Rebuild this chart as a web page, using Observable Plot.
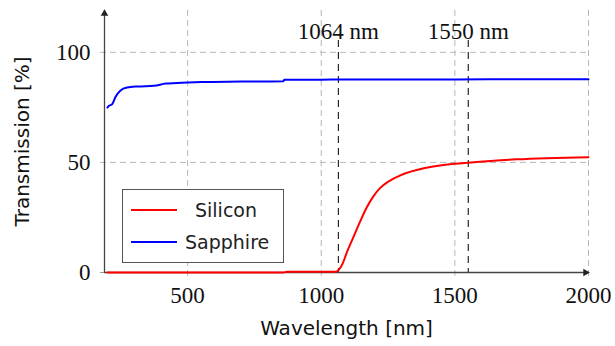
<!DOCTYPE html>
<html>
<head>
<meta charset="utf-8">
<script src="https://cdn.jsdelivr.net/npm/d3@7"></script>
<script src="https://cdn.jsdelivr.net/npm/@observablehq/plot@0.6"></script>
<style>
  body { margin: 0; background: #fff; }
  #wrap { position: relative; width: 615px; height: 346px; }
  #legend {
    position: absolute; left: 122px; top: 189px; width: 162px; height: 74px;
    border: 1.3px solid #555; box-sizing: border-box; background: #fff;
    font-family: "DejaVu Sans", sans-serif; font-size: 19px; color: #222;
  }
  .row { position: absolute; left: 8px; height: 24px; display: flex; align-items: center; }
  .sw { width: 46px; height: 2px; margin-right: 8px; }
</style>
</head>
<body>
<div id="wrap"></div>
<script>
// ---- data ----
const sapphireX = [200, 205, 218, 230, 249, 274, 311, 374, 418, 500, 549, 700, 858, 862, 1000, 1200, 1500, 1800, 2000];
const sapphireY = [74.9, 75.6, 76.5, 79.7, 82.7, 84.0, 84.5, 84.8, 85.8, 86.3, 86.5, 86.7, 86.9, 87.5, 87.6, 87.7, 87.7, 87.8, 87.8];
const siliconX = [200, 860, 870, 1055, 1064, 1080, 1094, 1120, 1145, 1170, 1195, 1220, 1250, 1294, 1394, 1500, 1550, 1731, 2000];
const siliconY = [0, 0, 0.3, 0.3, 1, 4, 8.6, 16, 23, 29.5, 34.6, 38.3, 41.2, 44, 47.6, 49.4, 49.9, 51.4, 52.4];
const seriesNames = ["Silicon", "Sapphire"];
const seriesColors = ["#ff0000", "#0000ff"];
const markerLines = [1064, 1550];
const markerLabels = ["1064 nm", "1550 nm"];
const xTicks = [500, 1000, 1500, 2000];
const yTicks = [0, 50, 100];
const xDomain = [189, 2000];
const yDomain = [0, 119];
const xLabel = "Wavelength [nm]";
const yLabel = "Transmission [%]";

const data = [
  ...siliconX.map((x, i) => ({series: seriesNames[0], x, y: siliconY[i]})),
  ...sapphireX.map((x, i) => ({series: seriesNames[1], x, y: sapphireY[i]}))
];
const markers = markerLines.map((x, i) => ({x, label: markerLabels[i]}));

const serif = "Liberation Serif, DejaVu Serif, serif";
const sans = "DejaVu Sans, sans-serif";

const chart = Plot.plot({
  width: 615,
  height: 346,
  marginLeft: 104,
  marginRight: 27,
  marginTop: 10,
  marginBottom: 74,
  x: {domain: xDomain},
  y: {domain: yDomain},
  color: {domain: seriesNames, range: seriesColors},
  style: {background: "#fff", overflow: "visible"},
  marks: [
    Plot.gridX(xTicks, {stroke: "#b8b8b8", strokeOpacity: 1, strokeWidth: 1, strokeDasharray: "6,4", insetBottom: -4}),
    Plot.gridY(yTicks.filter(d => d > 0), {stroke: "#b8b8b8", strokeOpacity: 1, strokeWidth: 1, strokeDasharray: "6,4", insetLeft: -4}),
    Plot.tickY([0], {y: d => d, stroke: "#999", insetLeft: -4, insetRight: 480}),
    Plot.ruleX(markers, {x: "x", stroke: "#000", strokeWidth: 1, strokeDasharray: "7,5", insetTop: 30}),
    Plot.text(markers, {x: "x", text: "label", frameAnchor: "top", dy: 12, fontFamily: serif, fontSize: 23, fill: "#111"}),
    Plot.axisX(xTicks, {tickSize: 0, tickPadding: 14, tickFormat: d3.format("d"), fontFamily: serif, fontSize: 23, label: null, fill: "#111"}),
    Plot.axisY(yTicks, {tickSize: 0, tickPadding: 14, tickFormat: d3.format("d"), fontFamily: serif, fontSize: 23, label: null, fill: "#111"}),
    Plot.ruleY([0], {stroke: "#444", strokeWidth: 1.3}),
    Plot.ruleX([xDomain[0]], {stroke: "#444", strokeWidth: 1.3}),
    Plot.line(data, {x: "x", y: "y", stroke: "series", z: "series", strokeWidth: 2, curve: "monotone-x"}),
    Plot.dot([0], {x: () => xDomain[1], y: () => yDomain[0], symbol: "triangle2", r: 3.6, rotate: 90, fill: "#222", stroke: "none", dx: -3}),
    Plot.dot([0], {x: () => xDomain[0], y: () => yDomain[1], symbol: "triangle2", r: 3.6, rotate: 0, fill: "#222", stroke: "none", dy: 3}),
    Plot.text([xLabel], {text: d => d, frameAnchor: "bottom", dy: 62, fontFamily: sans, fontSize: 20, fill: "#111"}),
    Plot.text([yLabel], {text: d => d, frameAnchor: "left", textAnchor: "middle", dx: -82, rotate: -90, fontFamily: sans, fontSize: 20, fill: "#111"})
  ]
});

const wrap = document.getElementById("wrap");
wrap.appendChild(chart);
const legend = document.createElement("div");
legend.id = "legend";
seriesNames.forEach((name, i) => {
  const row = document.createElement("div");
  row.className = "row";
  row.style.top = (8 + i * 32) + "px";
  const sw = document.createElement("div");
  sw.className = "sw";
  sw.style.background = seriesColors[i];
  const t = document.createElement("span");
  t.textContent = name;
  if (i === 0) { t.style.marginLeft = "10px"; }
  row.appendChild(sw);
  row.appendChild(t);
  legend.appendChild(row);
});
wrap.appendChild(legend);
</script>
</body>
</html>
